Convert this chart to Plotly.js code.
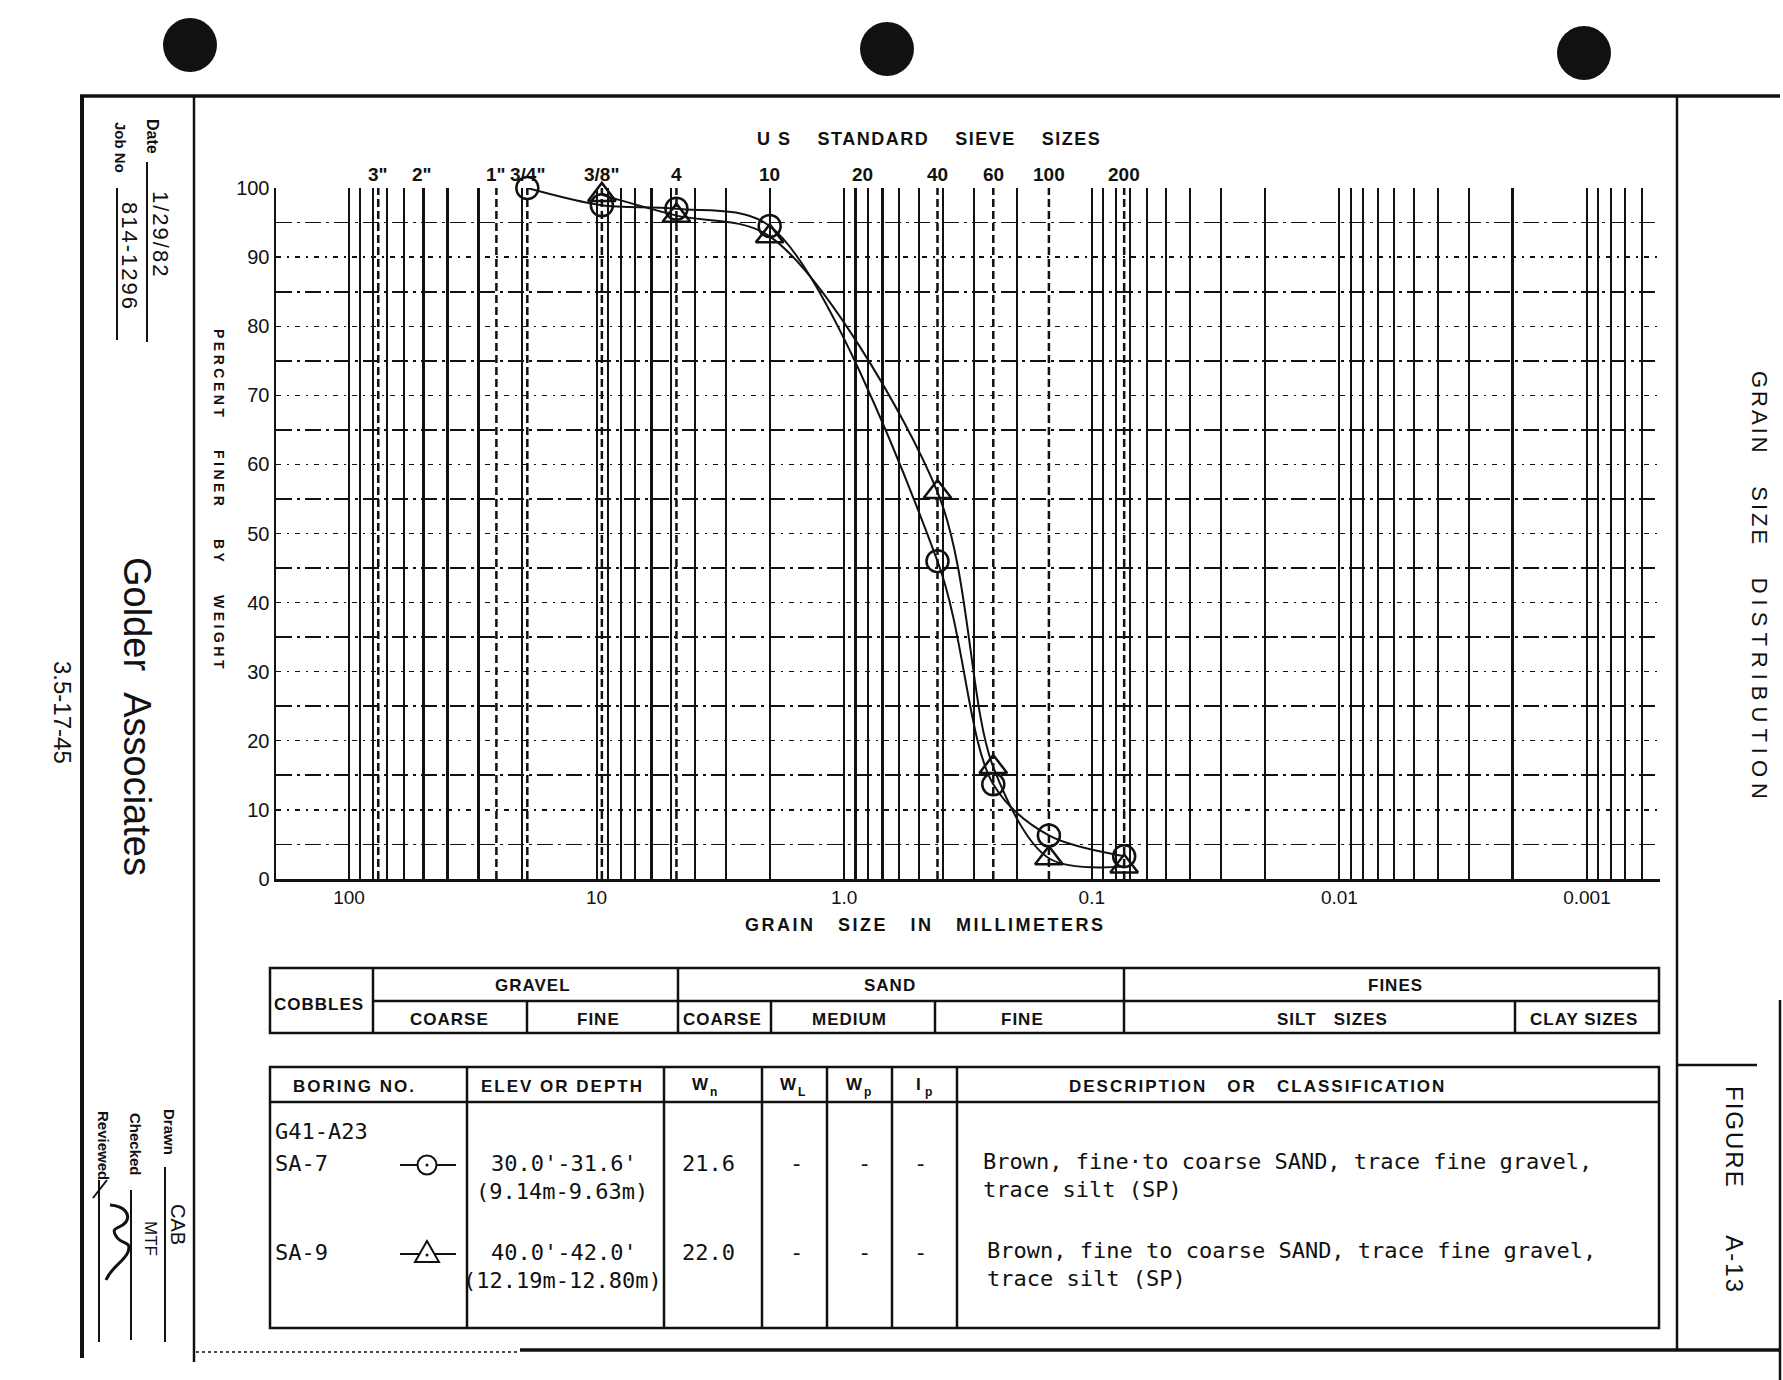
<!DOCTYPE html>
<html>
<head>
<meta charset="utf-8">
<script src="https://cdn.plot.ly/plotly-3.0.1.min.js"></script>
<style>
html,body{margin:0;padding:0;background:#ffffff;}
#chart{width:1783px;height:1380px;}
</style>
</head>
<body>
<div id="chart"></div>
<script>
// ---------------- data ----------------
const sieveLabels   = ['3"', '2"', '1"', '3/4"', '3/8"', '4', '10', '20', '40', '60', '100', '200'];
const sieveSizesMm  = [76.2, 50.8, 25.4, 19.05, 9.525, 4.76, 2.0, 0.84, 0.42, 0.25, 0.149, 0.074];
const dashedSieveMm = [76.2, 25.4, 19.05, 9.525, 4.76, 0.42, 0.25, 0.149, 0.074];

const sa7SizesMm      = [19.05, 9.525, 4.76, 2.0, 0.42, 0.25, 0.149, 0.074];
const sa7PercentFiner = [100, 97.5, 97, 94.5, 46, 13.7, 6.3, 3.3];
const sa9SizesMm      = [9.525, 4.76, 2.0, 0.42, 0.25, 0.149, 0.074];
const sa9PercentFiner = [99, 96, 93, 56, 16.2, 3.0, 1.8];

const xLabelVals = [100, 10, 1, 0.1, 0.01, 0.001];
const xLabelText = ['100', '10', '1.0', '0.1', '0.01', '0.001'];
const gridDecades = [10, 1, 0.1, 0.01, 0.001, 0.0001];
const gridDigits  = [2, 3, 4, 5, 6, 7, 8, 9];
const yTickVals  = [0, 10, 20, 30, 40, 50, 60, 70, 80, 90, 100];
const yMinorVals = [5, 15, 25, 35, 45, 55, 65, 75, 85, 95];

const soilGroups    = ['COBBLES', 'GRAVEL', 'SAND', 'FINES'];
const soilSubgroups = ['COARSE', 'FINE', 'COARSE', 'MEDIUM', 'FINE', 'SILT\u00a0\u00a0\u00a0SIZES', 'CLAY SIZES'];

const boringHeaders = ['BORING NO.', 'ELEV OR DEPTH', 'DESCRIPTION\u00a0\u00a0\u00a0OR\u00a0\u00a0\u00a0CLASSIFICATION'];
const limitSymbols  = ['W', 'W', 'W', 'I'];
const limitSubs     = ['n', 'L', 'p', 'p'];
const boringGroup = 'G41-A23';
const sampleIds   = ['SA-7', 'SA-9'];
const depthFt     = ["30.0'-31.6'", "40.0'-42.0'"];
const depthM      = ['(9.14m-9.63m)', '(12.19m-12.80m)'];
const waterContent = ['21.6', '22.0'];
const descLine1   = ['Brown, fine\u00b7to coarse SAND, trace fine gravel,', 'Brown, fine to coarse SAND, trace fine gravel,'];
const descLine2   = ['trace silt (SP)', 'trace silt (SP)'];

// ---------------- page geometry helpers ----------------
const INK = '#111111';
const SANS = 'Liberation Sans, Arial, sans-serif';
const MONO = 'DejaVu Sans Mono, Liberation Mono, monospace';
const L = 276, R = 1660, T = 188, B = 879;
const X = px => (px - L) / (R - L);
const Y = py => (B - py) / (B - T);
const NB = n => '\u00a0'.repeat(n);
const sp = (t, px) => `<span style="letter-spacing:${px}px">${t}</span>`;

const shapes = [];
const annotations = [];

function line(x0, y0, x1, y1, w, dash) {
  shapes.push({type: 'line', xref: 'paper', yref: 'paper', x0: X(x0), y0: Y(y0), x1: X(x1), y1: Y(y1),
               line: {color: INK, width: w || 2.5, dash: dash || 'solid'}});
}
function rect(x0, y0, x1, y1, w) {
  shapes.push({type: 'rect', xref: 'paper', yref: 'paper', x0: X(x0), y0: Y(y0), x1: X(x1), y1: Y(y1),
               line: {color: INK, width: w || 2.5}});
}
function circ(cx, cy, r, fill, w) {
  shapes.push({type: 'circle', xref: 'paper', yref: 'paper', x0: X(cx - r), y0: Y(cy - r), x1: X(cx + r), y1: Y(cy + r),
               fillcolor: fill, line: {color: INK, width: w === undefined ? 2 : w}});
}
function path(pts, fill, w) {
  const toks = pts.split(/\s+/);
  let out = [], isX = true;
  for (const t of toks) {
    if (/^[A-Za-z]$/.test(t)) { out.push(t); isX = true; continue; }
    const v = parseFloat(t);
    out.push(isX ? X(v).toFixed(5) : Y(v).toFixed(5));
    isX = !isX;
  }
  shapes.push({type: 'path', xref: 'paper', yref: 'paper', path: out.join(' '),
               fillcolor: fill || 'rgba(0,0,0,0)', line: {color: INK, width: w || 2}});
}
function ann(text, x, y, size, o) {
  o = o || {};
  annotations.push({
    text: text, x: X(x), y: Y(y), xref: 'paper', yref: 'paper', showarrow: false,
    xanchor: o.xanchor || 'center', yanchor: o.yanchor || 'middle', textangle: o.angle || 0,
    font: {family: o.family || SANS, size: size, color: INK}
  });
}

// ---------------- frame ----------------
line(80, 96, 1780, 96, 3.5);
line(82, 96, 82, 1358, 4);
line(194, 96, 194, 1362, 2.5);
line(1677, 96, 1677, 1350, 2.5);
line(520, 1350, 1780, 1350, 3.5);
line(196, 1352, 520, 1352, 1.5, 'dot');
line(1677, 1065, 1757, 1065, 2.5);
line(1780, 1000, 1780, 1380, 2.5);

// punch holes
circ(190, 45, 27, INK, 0);
circ(887, 49, 27, INK, 0);
circ(1584, 53, 27, INK, 0);

// ---------------- left title strip ----------------
ann('<b>Date</b>', 152, 136, 16, {angle: 90});
line(147, 162, 147, 342, 2);
ann(sp('1/29/82', 2), 161, 234, 22, {angle: 90});
ann('<b>Job No</b>', 120, 147, 15, {angle: 90});
line(117, 188, 117, 340, 2);
ann(sp('814-1296', 2), 130, 256, 22, {angle: 90});
ann('Golder' + NB(2) + 'Associates', 137, 716, 38, {angle: 90});
ann('3.5-17-45', 63, 713, 24, {angle: 90});
ann('<b>Drawn</b>', 170, 1132, 15, {angle: 90});
line(165, 1167, 165, 1342, 2);
ann('CAB', 178, 1224, 20, {angle: 90});
ann('<b>Checked</b>', 136, 1144, 15, {angle: 90});
line(131, 1190, 131, 1340, 2);
ann('MTF', 151, 1238, 17, {angle: 90});
ann('<b>Reviewed</b>', 104, 1145, 15, {angle: 90});
line(99, 1180, 99, 1342, 2);
path('M 93 1198 L 107 1180', null, 2);
path('M 110 1205 C 124 1206 131 1214 126 1222 C 120 1230 110 1226 116 1236 C 122 1246 132 1240 128 1252 C 124 1262 112 1266 106 1280', null, 3);

// ---------------- right title strip ----------------
ann(sp('GRAIN', 3) + NB(5) + sp('SIZE', 3) + NB(5) + sp('DISTRIBUTION', 6), 1760, 588, 22, {angle: 90});
ann(sp('FIGURE', 2) + NB(7) + sp('A-13', 2), 1735, 1190, 24, {angle: 90});

// ---------------- chart texts ----------------
ann('<b>' + sp('U\u00a0S' + NB(4) + 'STANDARD' + NB(4) + 'SIEVE' + NB(4) + 'SIZES', 1.5) + '</b>', 929, 139, 18);
ann('<b>' + sp('GRAIN' + NB(3) + 'SIZE' + NB(3) + 'IN' + NB(3) + 'MILLIMETERS', 2.5) + '</b>', 925, 925, 18);
ann('<b>' + sp('PERCENT' + NB(4) + 'FINER' + NB(4) + 'BY' + NB(4) + 'WEIGHT', 3.5) + '</b>', 219, 500, 14, {angle: 90});

// sieve size labels placed through the x axis (log axis => log10 position)
sieveLabels.forEach((lab, i) => {
  annotations.push({text: '<b>' + lab + '</b>', x: Math.log10(sieveSizesMm[i]), y: Y(174), xref: 'x', yref: 'paper',
    showarrow: false, xanchor: 'center', yanchor: 'middle', font: {family: SANS, size: 19, color: INK}});
});

// dashed sieve lines (data-referenced on the log x axis)
dashedSieveMm.forEach(s => {
  shapes.push({type: 'line', xref: 'x', yref: 'y', x0: s, x1: s, y0: 0, y1: 100, layer: 'below',
               line: {color: INK, width: 2.5, dash: '8px,4px'}});
});

// ---------------- soil classification table ----------------
rect(270, 968, 1659, 1033);
line(373, 1001, 1659, 1001);
[373, 678, 1124].forEach(x => line(x, 968, x, 1033));
[527, 771, 935, 1515].forEach(x => line(x, 1001, x, 1033));
const groupPos = [[319, 1004], [533, 985], [890, 985], [1395, 985]];
soilGroups.forEach((g, i) => ann('<b>' + sp(g, 1) + '</b>', groupPos[i][0], groupPos[i][1], 17));
const subPos = [449, 598, 722, 849, 1022, 1332, 1584];
soilSubgroups.forEach((s, i) => ann('<b>' + sp(s, 1) + '</b>', subPos[i], 1019, 17));

// ---------------- boring table ----------------
rect(270, 1067, 1659, 1328);
line(270, 1102, 1659, 1102);
[467, 664, 762, 827, 892, 957].forEach(x => line(x, 1067, x, 1328));
const headPos = [354, 562, 1257];
boringHeaders.forEach((h, i) => ann('<b>' + sp(h, 2) + '</b>', headPos[i], 1086, 17));
const limitPos = [705, 793, 859, 923];
limitSymbols.forEach((s, i) => {
  ann('<b>' + s + '</b>', limitPos[i] - 5, 1084, 17);
  ann('<b>' + limitSubs[i] + '</b>', limitPos[i] + (s === 'I' ? 0 : 3), 1092, 12, {xanchor: 'left'});
});

ann(boringGroup, 273, 1131, 22, {family: MONO, xanchor: 'left'});
const rowY = [1163, 1252];
sampleIds.forEach((s, i) => {
  const y = rowY[i];
  ann(s, 273, y, 22, {family: MONO, xanchor: 'left'});
  ann(depthFt[i], 564, y, 22, {family: MONO});
  ann(depthM[i], 562, y + 28, 22, {family: MONO});
  ann(waterContent[i], 708, y, 22, {family: MONO});
  [796, 864, 920].forEach(x => ann('-', x, y, 22, {family: MONO}));
  ann(descLine1[i], 981 + i * 4, y - 2, 22, {family: MONO, xanchor: 'left'});
  ann(descLine2[i], 981 + i * 4, y + 26, 22, {family: MONO, xanchor: 'left'});
});
// legend symbols in table
line(400, 1165, 456, 1165, 2);
circ(427, 1165, 9.5, '#ffffff', 2);
circ(427, 1165, 1.5, INK, 0);
line(400, 1254, 456, 1254, 2);
path('M 427 1241 L 439 1262 L 415 1262 Z', '#ffffff', 2);
circ(427, 1255, 1.5, INK, 0);

// ---------------- log-paper minor grid values (2..9 of each decade) ----------------
const gridVals = [];
gridDecades.forEach(d => gridDigits.forEach(m => {
  const v = +(m * d).toPrecision(6);
  if (v <= 100.0001 && v >= 0.000499) gridVals.push(v);
}));

// ---------------- traces ----------------
const traces = [
  {x: sa7SizesMm, y: sa7PercentFiner, type: 'scatter', mode: 'lines+markers', name: 'SA-7',
   line: {color: INK, width: 2, shape: 'spline', smoothing: 0.9},
   marker: {symbol: 'circle-open', size: 22, color: INK, line: {width: 2.5, color: INK}},
   cliponaxis: false, hoverinfo: 'skip'},
  {x: sa9SizesMm, y: sa9PercentFiner, type: 'scatter', mode: 'lines+markers', name: 'SA-9',
   line: {color: INK, width: 2, shape: 'spline', smoothing: 0.9},
   marker: {symbol: 'triangle-up-open', size: 24, color: INK, line: {width: 2.5, color: INK}},
   cliponaxis: false, hoverinfo: 'skip'}
];

const layout = {
  width: 1783, height: 1380,
  margin: {l: L, r: 1783 - R, t: T, b: 1380 - B, pad: 0},
  paper_bgcolor: '#ffffff', plot_bgcolor: '#ffffff',
  showlegend: false,
  xaxis: {
    type: 'log', range: [2.295, -3.295], fixedrange: true,
    tickmode: 'array', tickvals: xLabelVals, ticktext: xLabelText,
    showgrid: true, gridcolor: INK, gridwidth: 2.2,
    ticks: '', showline: true, linecolor: INK, linewidth: 2.5, zeroline: false,
    tickfont: {family: SANS, size: 19, color: INK},
    minor: {tickmode: 'array', tickvals: gridVals, showgrid: true, gridcolor: INK, gridwidth: 2.2, ticks: ''}
  },
  yaxis: {
    range: [0, 100], fixedrange: true,
    tickmode: 'array', tickvals: yTickVals,
    showgrid: true, gridcolor: INK, gridwidth: 1.3, griddash: '5px,6px,2px,6px',
    ticks: '', showline: true, linecolor: INK, linewidth: 2.5, zeroline: false,
    tickfont: {family: SANS, size: 20, color: INK},
    minor: {tickmode: 'array', tickvals: yMinorVals, showgrid: true, gridcolor: INK, gridwidth: 1.8,
            griddash: '16px,5px,3px,5px', ticks: ''}
  },
  shapes: shapes,
  annotations: annotations
};

Plotly.newPlot('chart', traces, layout, {displayModeBar: false, staticPlot: true});
</script>
</body>
</html>
